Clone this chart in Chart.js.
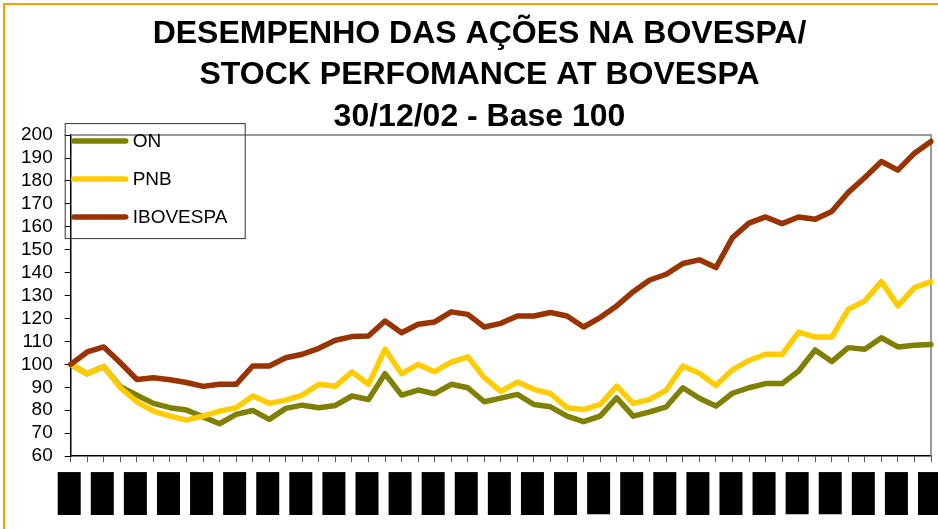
<!DOCTYPE html>
<html>
<head>
<meta charset="utf-8">
<script src="https://cdn.jsdelivr.net/npm/chart.js@4/dist/chart.umd.min.js"></script>
<style>
	html, body { margin: 0; padding: 0; background: #fff; overflow: hidden; }
	#wrap { position: relative; width: 938px; height: 529px; }
	#frame { position: absolute; left: 3px; top: 3px; width: 1000px; height: 600px; border: 2px solid #f5a100; box-sizing: border-box; pointer-events: none; }
	canvas { position: absolute; left: 0; top: 0; }
</style>
</head>
<body>
<div id="wrap">
	<canvas id="chart" width="938" height="529"></canvas>
	<div id="frame"></div>
</div>
<script>
const FONT = '"Liberation Sans", Arial, sans-serif';

const TITLE = ['DESEMPENHO DAS AÇÕES NA BOVESPA/', 'STOCK PERFOMANCE AT BOVESPA', '30/12/02 - Base 100'];

// semanas, base 30/12/02
const WEEKS = [
	'30/12/02', '06/01/03', '13/01/03', '20/01/03', '27/01/03', '03/02/03', '10/02/03', '17/02/03', '24/02/03',
	'03/03/03', '10/03/03', '17/03/03', '24/03/03', '31/03/03', '07/04/03', '14/04/03', '21/04/03', '28/04/03',
	'05/05/03', '12/05/03', '19/05/03', '26/05/03', '02/06/03', '09/06/03', '16/06/03', '23/06/03', '30/06/03',
	'07/07/03', '14/07/03', '21/07/03', '28/07/03', '04/08/03', '11/08/03', '18/08/03', '25/08/03', '01/09/03',
	'08/09/03', '15/09/03', '22/09/03', '29/09/03', '06/10/03', '13/10/03', '20/10/03', '27/10/03', '03/11/03',
	'10/11/03', '17/11/03', '24/11/03', '01/12/03', '08/12/03', '15/12/03', '22/12/03', '29/12/03'
];

const ON = [
	100, 95.9, 99.1, 90.2, 86.6, 83.0, 81.1, 80.1, 77.1, 74.1, 78.2, 79.9, 76.0,
	80.8, 82.2, 81.1, 82.1, 86.2, 84.7, 95.9, 86.6, 88.8, 87.2, 91.3, 89.8, 83.7, 85.3,
	86.9, 82.5, 81.5, 77.4, 75.0, 77.4, 85.4, 77.4, 79.3, 81.5, 89.8, 85.2, 81.8,
	87.4, 89.8, 91.6, 91.6, 97.1, 106.3, 101.2, 107.3, 106.6, 111.6, 107.6, 108.3, 108.7
];

const PNB = [
	100, 95.9, 99.1, 89.8, 83.7, 79.6, 77.4, 75.7, 77.4, 79.6, 81.1, 86.2, 83.0,
	84.4, 86.6, 91.3, 90.5, 96.7, 91.3, 106.6, 95.9, 100, 96.8, 101.0, 103.3, 94.2, 88.2,
	92.3, 89.1, 87.3, 81.1, 80.3, 82.5, 90.5, 83.0, 84.7, 88.8, 99.3, 96.1, 90.8,
	97.6, 101.7, 104.4, 104.4, 114.1, 111.9, 111.9, 124.0, 127.7, 136.1, 125.5, 133.5, 136.1
];

const IBOVESPA = [
	100, 105.4, 107.6, 100.7, 93.4, 94.2, 93.3, 92.1, 90.4, 91.3, 91.3, 99.3, 99.3,
	102.9, 104.4, 107.0, 110.5, 112.1, 112.4, 118.9, 113.8, 117.5, 118.5, 122.9, 121.8, 116.3, 117.9,
	121.1, 121.1, 122.6, 121.1, 116.3, 120.4, 125.5, 131.7, 136.8, 139.3, 144.0, 145.6, 142.2,
	155.3, 161.6, 164.3, 161.4, 164.3, 163.3, 166.7, 175.0, 181.5, 188.5, 184.7, 192.1, 197.2
];

const Y_MIN = 60;
const Y_MAX = 200;
const Y_STEP = 10;

function serie(label, data, color, order) {
	return {
		label,
		data,
		borderColor: color,
		backgroundColor: color,
		borderWidth: 5.5,
		borderJoinStyle: 'round',
		borderCapStyle: 'round',
		pointRadius: 0,
		tension: 0,
		fill: false,
		order
	};
}

// moldura da área de plotagem (topo e direita em cinza)
const plotFrame = {
	id: 'plotFrame',
	beforeDatasetsDraw(chart) {
		const {ctx, chartArea: a} = chart;
		ctx.save();
		ctx.strokeStyle = '#7a7a7a';
		ctx.lineWidth = 1.5;
		ctx.beginPath();
		ctx.moveTo(a.left, a.top);
		ctx.lineTo(a.right, a.top);
		ctx.lineTo(a.right, a.bottom);
		ctx.stroke();
		ctx.restore();
	}
};

// legenda dentro do gráfico, como no original
const insideLegend = {
	id: 'insideLegend',
	afterDatasetsDraw(chart) {
		const {ctx, chartArea} = chart;
		const x0 = chartArea.left - 6;
		const y0 = chartArea.top - 12;
		ctx.save();
		ctx.strokeStyle = '#333';
		ctx.lineWidth = 1;
		ctx.strokeRect(x0 + 0.5, y0 + 0.5, 180, 115);
		ctx.font = '19px ' + FONT;
		ctx.textBaseline = 'middle';
		chart.data.datasets.forEach((ds, i) => {
			const y = y0 + 18 + i * 38;
			ctx.strokeStyle = ds.borderColor;
			ctx.lineWidth = 5.5;
			ctx.lineCap = 'round';
			ctx.beginPath();
			ctx.moveTo(x0 + 9, y);
			ctx.lineTo(x0 + 61, y);
			ctx.stroke();
			ctx.fillStyle = '#000';
			ctx.fillText(ds.label, x0 + 68, y + 1);
		});
		ctx.restore();
	}
};

new Chart(document.getElementById('chart').getContext('2d'), {
	type: 'line',
	data: {
		labels: WEEKS,
		datasets: [
			serie('ON', ON, '#808000', 3),
			serie('PNB', PNB, '#ffcc00', 2),
			serie('IBOVESPA', IBOVESPA, '#993300', 1)
		]
	},
	options: {
		responsive: false,
		animation: false,
		devicePixelRatio: 1,
		layout: {
			// direita negativa só para centrar o título como no original
			padding: {left: 9, right: -12, top: 0, bottom: 4}
		},
		plugins: {
			legend: {display: false},
			tooltip: {enabled: false},
			title: {
				display: true,
				text: TITLE,
				color: '#000',
				font: {family: FONT, size: 32, weight: 'bold', lineHeight: 1.303},
				padding: {top: 13, bottom: -3}
			}
		},
		scales: {
			x: {
				offset: false,
				border: {display: true, color: '#000', width: 1.5},
				grid: {drawOnChartArea: false, drawTicks: true, tickLength: 6, tickColor: '#555'},
				ticks: {
					autoSkip: false,
					minRotation: 90,
					maxRotation: 90,
					padding: 12,
					color: '#000',
					font: {family: FONT, size: 10},
					labelOffset: -7.5,
					callback: function(value, index) {
						return index % 2 === 0 ? this.getLabelForValue(value) : '';
					},
					showLabelBackdrop: ctx => ctx.index % 2 === 0,
					backdropColor: '#000',
					backdropPadding: {top: 5.5, bottom: 5.5, left: 2, right: 2}
				},
				afterFit(scale) {
					// as etiquetas giradas não devem empurrar a área do gráfico
					scale.paddingLeft = 0;
					scale.paddingRight = 7;
				}
			},
			y: {
				min: Y_MIN,
				max: Y_MAX,
				border: {display: true, color: '#000', width: 1.5},
				grid: {drawOnChartArea: false, drawTicks: true, tickLength: 6, tickColor: '#000'},
				ticks: {
					stepSize: Y_STEP,
					autoSkip: false,
					padding: 12,
					color: '#000',
					font: {family: FONT, size: 19}
				}
			}
		}
	},
	plugins: [plotFrame, insideLegend]
});
</script>
</body>
</html>
